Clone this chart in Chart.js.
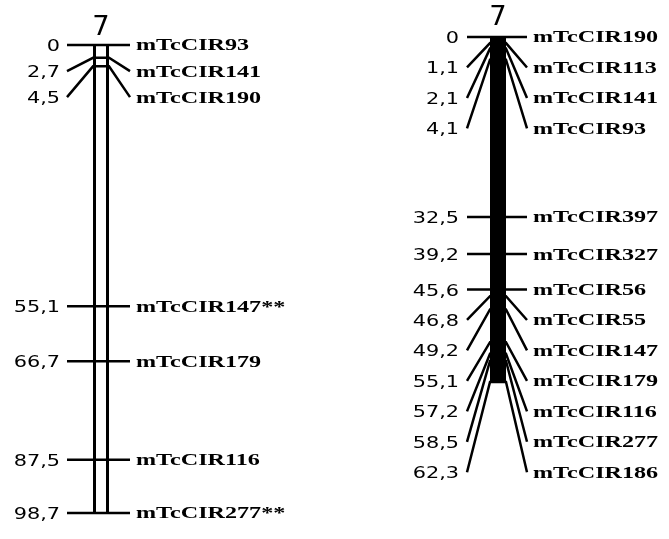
<!DOCTYPE html>
<html>
<head>
<meta charset="utf-8">
<script src="https://cdn.jsdelivr.net/npm/chart.js@4.4.1/dist/chart.umd.min.js"></script>
<style>
  body { margin: 0; background: #fff; }
  #wrap { width: 669px; height: 539px; position: relative; }
</style>
</head>
<body>
<div id="wrap"><canvas id="mapChart"></canvas></div>
<script>
// Linkage group 7, two maps
const groupName = '7';

const leftPositions = [0, 2.7, 4.5, 55.1, 66.7, 87.5, 98.7];
const leftMarkers = ['mTcCIR93', 'mTcCIR141', 'mTcCIR190', 'mTcCIR147**', 'mTcCIR179', 'mTcCIR116', 'mTcCIR277**'];

const rightPositions = [0, 1.1, 2.1, 4.1, 32.5, 39.2, 45.6, 46.8, 49.2, 55.1, 57.2, 58.5, 62.3];
const rightMarkers = ['mTcCIR190', 'mTcCIR113', 'mTcCIR141', 'mTcCIR93', 'mTcCIR397', 'mTcCIR327', 'mTcCIR56',
    'mTcCIR55', 'mTcCIR147', 'mTcCIR179', 'mTcCIR116', 'mTcCIR277', 'mTcCIR186'];

// Layout of each map (pixels on the x scale)
const maps = [
    { axis: 'yL', pos: leftPositions, names: leftMarkers, cx: 101, barW: 16, hollow: true,
      tickL: 67, tickR: 130, numX: 60, nameX: 136, titleY: 35 },
    { axis: 'yR', pos: rightPositions, names: rightMarkers, cx: 498, barW: 16, hollow: false,
      tickL: 467, tickR: 527, numX: 459, nameX: 533, titleY: 25 }
];

// push labels apart so they don't overlap
function spread(values, gap) {
    const out = [];
    values.forEach((v, i) => {
        out.push(i === 0 ? v : Math.max(v, out[i - 1] + gap));
    });
    return out;
}

function fmt(v) {
    return v === 0 ? '0' : v.toFixed(1).replace('.', ',');
}

const datasets = [];
maps.forEach(m => {
    m.labelPos = spread(m.pos, 5.5);
    const end = m.pos[m.pos.length - 1];
    datasets.push({
        yAxisID: m.axis, order: 3, showLine: true, pointRadius: 0,
        borderColor: '#000', borderWidth: m.barW, borderCapStyle: 'butt',
        data: [{ x: m.cx, y: 0 }, { x: m.cx, y: end }]
    });
    if (m.hollow) {
        datasets.push({
            yAxisID: m.axis, order: 2, showLine: true, pointRadius: 0,
            borderColor: '#fff', borderWidth: m.barW - 6, borderCapStyle: 'butt',
            data: [{ x: m.cx, y: 0 }, { x: m.cx, y: end }]
        });
    }
    m.pos.forEach((p, i) => {
        datasets.push({
            yAxisID: m.axis, order: 1, showLine: true, pointRadius: 0,
            borderColor: '#000', borderWidth: 2.5, borderCapStyle: 'butt', borderJoinStyle: 'miter',
            data: [
                { x: m.tickL, y: m.labelPos[i] },
                { x: m.cx - m.barW / 2, y: p },
                { x: m.cx + m.barW / 2, y: p },
                { x: m.tickR, y: m.labelPos[i] }
            ]
        });
    });
});

function stretchText(ctx, text, x, y, sx, align) {
    ctx.save();
    ctx.translate(x, y);
    ctx.scale(sx, 1);
    ctx.textAlign = align;
    ctx.fillText(text, 0, 0);
    ctx.restore();
}

const labelPlugin = {
    id: 'mapLabels',
    afterDatasetsDraw(chart) {
        const ctx = chart.ctx;
        const xs = chart.scales.x;
        ctx.save();
        ctx.fillStyle = '#000';
        ctx.textBaseline = 'alphabetic';
        maps.forEach(m => {
            const ys = chart.scales[m.axis];
            // title
            ctx.font = '26px "DejaVu Sans"';
            stretchText(ctx, groupName, xs.getPixelForValue(m.cx), m.titleY, 1.05, 'center');
            m.pos.forEach((p, i) => {
                const y = ys.getPixelForValue(m.labelPos[i]);
                ctx.font = '16px "DejaVu Sans"';
                stretchText(ctx, fmt(p), xs.getPixelForValue(m.numX), y + 6, 1.3, 'right');
                ctx.font = 'bold 17px "Liberation Serif"';
                stretchText(ctx, m.names[i], xs.getPixelForValue(m.nameX), y + 5.5, 1.42, 'left');
            });
        });
        ctx.restore();
    }
};

new Chart(document.getElementById('mapChart'), {
    type: 'scatter',
    data: { datasets: datasets },
    options: {
        responsive: true,
        maintainAspectRatio: false,
        animation: false,
        layout: { padding: 0 },
        plugins: { legend: { display: false }, tooltip: { enabled: false } },
        scales: {
            x: { type: 'linear', min: 0, max: 669, display: false },
            yL: { type: 'linear', reverse: true, min: -9.49, max: 104.19, display: false },
            yR: { type: 'linear', reverse: true, min: -6.68, max: 90.65, display: false }
        }
    },
    plugins: [labelPlugin]
});
</script>
</body>
</html>
